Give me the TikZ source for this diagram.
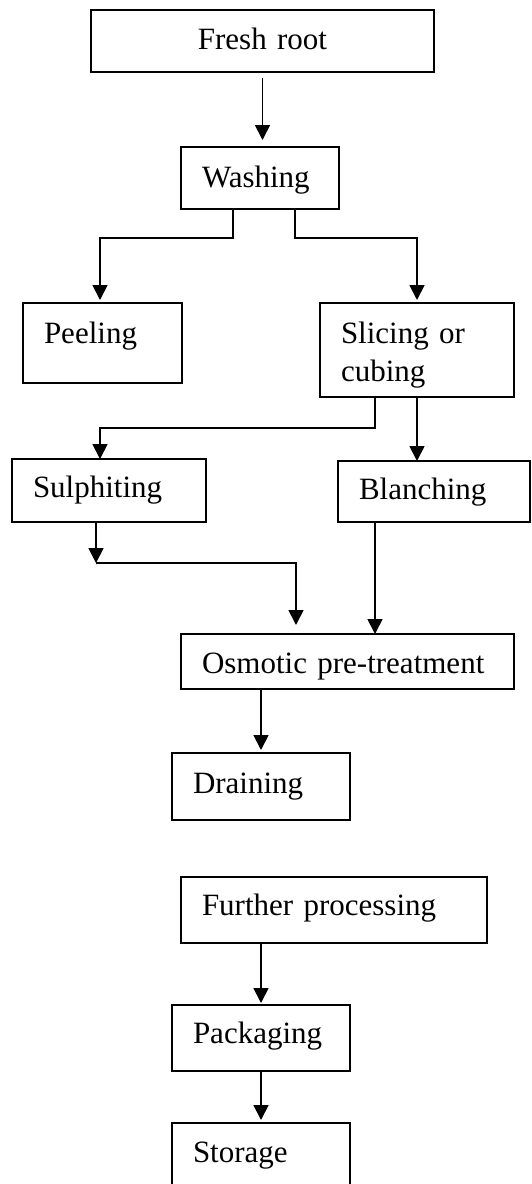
\documentclass[tikz,border=0pt]{standalone}
\usepackage{fontspec}
\setmainfont{Liberation Serif}
\usetikzlibrary{arrows.meta}
\begin{document}
\begin{tikzpicture}[x=0.5pt,y=-0.5pt,
    stepbox/.style={draw,line width=0.6pt,anchor=north west,outer sep=0pt,
      inner xsep=10.5pt,inner ysep=0pt,align=left,
      font=\fontsize{15.5}{19}\selectfont},
    flow/.style={line width=0.9pt,-{Triangle[width=7.5pt,length=7.5pt]}}]
  \useasboundingbox (0,0) rectangle (531,1184);
  \clip (0,0) rectangle (531,1184);
  % process steps
  \node[stepbox,align=center,text width=150.5pt,text height=19.5pt,text depth=11.5pt] (fresh) at (91,10) {Fresh root};
  \node[stepbox,text width=58pt,text height=20pt,text depth=11pt] (wash) at (181,147) {Washing};
  \node[stepbox,text width=58.5pt,text height=20pt,text depth=20pt] (peel) at (23,303) {Peeling};
  \node[stepbox,text width=76pt,text height=20pt,text depth=27pt] (slice) at (320,303) {Slicing or\\cubing};
  \node[stepbox,text width=76pt,text height=19pt,text depth=12.5pt] (sulph) at (12,459) {Sulphiting};
  \node[stepbox,text width=75pt,text height=19pt,text depth=11.5pt] (blanch) at (338,461) {Blanching};
  \node[stepbox,text width=145.5pt,text height=19.5pt,text depth=8pt] (osmo) at (181,634) {Osmotic pre-treatment};
  \node[stepbox,text width=68pt,text height=20pt,text depth=13.5pt] (drain) at (172,753) {Draining};
  \node[stepbox,text width=132pt,text height=19pt,text depth=14pt] (further) at (181,877) {Further processing};
  \node[stepbox,text width=68pt,text height=19pt,text depth=14pt] (pack) at (172,1005) {Packaging};
  \node[stepbox,text width=68pt,text height=19.5pt,text depth=22pt] (store) at (172,1123) {Storage};
  % connectors
  \draw[flow] ([yshift=-3pt]fresh.south) -- ([yshift=3.5pt]fresh.south |- wash.north);
  \draw[flow] ([xshift=-13.5pt]wash.south) -- ++(0,29) -| ([xshift=-1.25pt,yshift=1.5pt]peel.north);
  \draw[flow] ([xshift=17.5pt]wash.south) -- ++(0,29) -| ([yshift=1.5pt]slice.north);
  \draw[flow] ([xshift=-21pt]slice.south) -- ++(0,31) -| ([xshift=-4.5pt]sulph.north);
  \draw[flow] (slice.south) -- (slice.south |- blanch.north);
  \draw[flow] ([xshift=-6.5pt]sulph.south) -- ++(0,41) coordinate (bend);
  \draw[flow] (bend) -| ([xshift=-25.75pt,yshift=4.5pt]osmo.north);
  \draw[flow] ([xshift=-29.5pt]blanch.south) -- ([xshift=-29.5pt]blanch.south |- osmo.north);
  \draw[flow] (drain.north |- osmo.south) -- ([yshift=1.5pt]drain.north);
  \draw[flow] (pack.north |- further.south) -- ([yshift=1pt]pack.north);
  \draw[flow] (pack.south) -- ([yshift=1.5pt]store.north);
\end{tikzpicture}
\end{document}
